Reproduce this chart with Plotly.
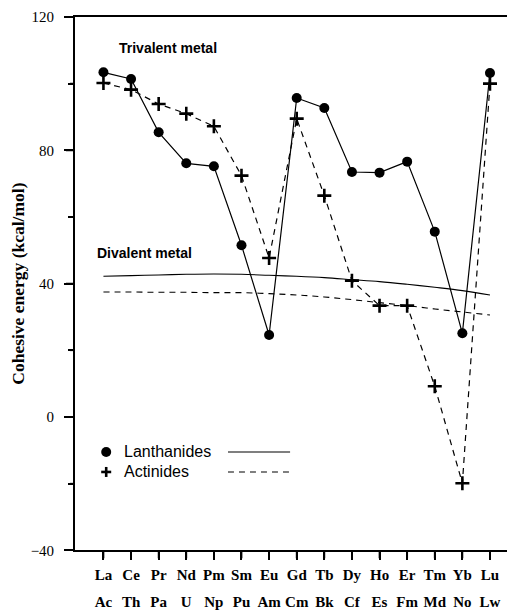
import plotly.graph_objects as go

# ---- data ----
lanthanides = ["La", "Ce", "Pr", "Nd", "Pm", "Sm", "Eu", "Gd", "Tb", "Dy", "Ho", "Er", "Tm", "Yb", "Lu"]
actinides = ["Ac", "Th", "Pa", "U", "Np", "Pu", "Am", "Cm", "Bk", "Cf", "Es", "Fm", "Md", "No", "Lw"]
lan_trivalent = [103.4, 101.4, 85.4, 76.1, 75.2, 51.5, 24.6, 95.7, 92.7, 73.5, 73.3, 76.6, 55.6, 25.1, 103.2]
act_trivalent = [100.2, 98.2, 93.9, 91.0, 87.2, 72.4, 47.7, 89.5, 66.4, 40.9, 33.4, 33.4, 9.2, -19.9, 100.0]
lan_divalent = [42.2, 42.4, 42.6, 42.8, 42.9, 42.8, 42.5, 42.2, 41.8, 41.2, 40.6, 39.8, 38.9, 37.9, 36.6]
act_divalent = [37.5, 37.5, 37.4, 37.4, 37.3, 37.3, 37.0, 36.6, 36.0, 35.2, 34.3, 33.4, 32.4, 31.5, 30.6]
y_tickvals = [-40, 0, 40, 80, 120]
y_minorvals = [-20, 20, 60, 100]

idx = list(range(len(lanthanides)))
DASH = "6px,5px"
Y_DOMAIN_START = 0.0915

fig = go.Figure()
fig.add_trace(go.Scatter(x=idx, y=lan_trivalent, mode="lines+markers", name="Lanthanides",
                         line=dict(color="black", width=1.2),
                         marker=dict(symbol="circle", size=10, color="black")))
fig.add_trace(go.Scatter(x=idx, y=act_trivalent, mode="lines+markers", name="Actinides", xaxis="x2",
                         line=dict(color="black", width=1.2, dash=DASH),
                         marker=dict(symbol="cross-thin", size=10, color="black",
                                     line=dict(color="black", width=2.6))))
fig.add_trace(go.Scatter(x=idx, y=lan_divalent, mode="lines", line=dict(color="black", width=1.1, shape="spline")))
fig.add_trace(go.Scatter(x=idx, y=act_divalent, mode="lines", xaxis="x2",
                         line=dict(color="black", width=1.1, shape="spline", dash=DASH)))

serif_b = dict(family="Liberation Serif", size=15, color="black", weight="bold")
xr = [-1.03, 14.87]

# the page body has an 8px default margin, so the figure is 8px smaller and margins are shifted
fig.update_layout(
    width=507, height=606,
    margin=dict(l=67, r=1, t=6, b=10),
    paper_bgcolor="white", plot_bgcolor="white",
    showlegend=False,
    xaxis=dict(range=xr, tickmode="array", tickvals=idx, ticktext=lanthanides,
               ticks="outside", ticklen=8, tickwidth=2, tickcolor="black",
               showline=True, linecolor="black", linewidth=1.8, mirror=True,
               showgrid=False, zeroline=False, tickfont=serif_b, ticklabelstandoff=2),
    xaxis2=dict(range=xr, matches="x", overlaying="x", anchor="free", position=0.022, side="bottom",
                tickmode="array", tickvals=idx, ticktext=actinides, ticks="",
                showline=False, showgrid=False, zeroline=False, tickfont=serif_b),
    yaxis=dict(domain=[Y_DOMAIN_START, 1], range=[-40, 120], tickmode="array", tickvals=y_tickvals,
               ticks="outside", ticklen=9, tickwidth=2, tickcolor="black",
               minor=dict(ticks="outside", ticklen=5, tickwidth=1.8, tickmode="array",
                          tickvals=y_minorvals, tickcolor="black"),
               showline=True, linecolor="black", linewidth=1.8,
               showgrid=False, zeroline=False, ticklabeloverflow="allow",
               tickfont=dict(family="Liberation Serif", size=15, color="black"),
               ticklabelstandoff=7,
               title=dict(text="Cohesive energy (kcal/mol)", standoff=6,
                          font=dict(family="Liberation Serif", size=17.5, color="black", weight="bold"))),
)

# explicit tick marks (drawn at the axes' own tick values)
for v in idx:
    fig.add_shape(type="line", xref="x", yref="paper", ysizemode="pixel", yanchor=Y_DOMAIN_START,
                  x0=v, x1=v, y0=0, y1=-8, line=dict(color="black", width=1.8))
for v in y_tickvals:
    fig.add_shape(type="line", xref="paper", yref="y", xsizemode="pixel", xanchor=0,
                  x0=0, x1=-9, y0=v, y1=v, line=dict(color="black", width=1.8))
for v in y_minorvals:
    fig.add_shape(type="line", xref="paper", yref="y", xsizemode="pixel", xanchor=0,
                  x0=0, x1=-5, y0=v, y1=v, line=dict(color="black", width=1.6))

# partial right frame (as in the scanned original)
fig.add_shape(type="line", xref="paper", yref="paper", x0=0.998, x1=0.998, y0=0.863, y1=1,
              line=dict(color="black", width=1.6))

sans_b = dict(family="Liberation Sans", size=14, color="black", weight="bold")
fig.add_annotation(x=2.34, y=110.7, xref="x", yref="y", text="Trivalent metal", showarrow=False, font=sans_b)
fig.add_annotation(x=1.47, y=49.2, xref="x", yref="y", text="Divalent metal", showarrow=False, font=sans_b)

# custom legend (marker, label, line sample)
leg_font = dict(family="Liberation Sans", size=16, color="black")
for yv, label, dash in [(-10.5, "Lanthanides", "solid"), (-16.5, "Actinides", DASH)]:
    fig.add_annotation(x=0.68, y=yv, xref="x", yref="y", text=label, showarrow=False,
                       xanchor="left", yanchor="middle", font=leg_font)
    fig.add_shape(type="line", xref="x", yref="y", x0=4.51, x1=6.76, y0=yv, y1=yv,
                  line=dict(color="black", width=1.1, dash=dash))
fig.add_shape(type="circle", xref="x", yref="y", xsizemode="pixel", ysizemode="pixel",
              xanchor=0.1, yanchor=-10.5, x0=-5, x1=5, y0=-5, y1=5,
              fillcolor="black", line=dict(color="black", width=0))
fig.add_shape(type="line", xref="x", yref="y", xsizemode="pixel", ysizemode="pixel",
              xanchor=0.1, yanchor=-16.5, x0=-5, x1=5, y0=0, y1=0, line=dict(color="black", width=2.6))
fig.add_shape(type="line", xref="x", yref="y", xsizemode="pixel", ysizemode="pixel",
              xanchor=0.1, yanchor=-16.5, x0=0, x1=0, y0=-5, y1=5, line=dict(color="black", width=2.6))

fig.write_html("out.html")
